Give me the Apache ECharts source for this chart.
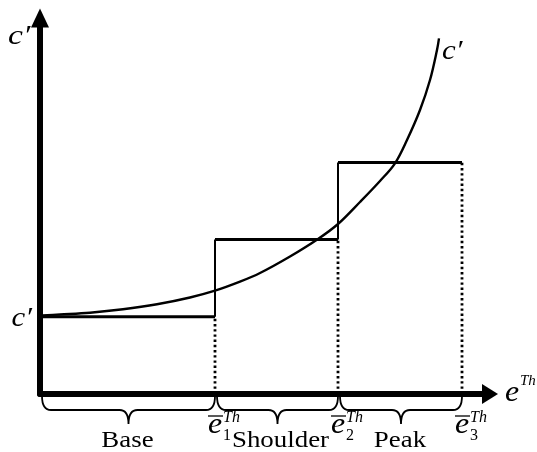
<!DOCTYPE html>
<html><head><meta charset="utf-8">
<script src="https://cdn.jsdelivr.net/npm/echarts@6/dist/echarts.min.js"></script>
<style>html,body{margin:0;padding:0;background:#fff}#c{width:537px;height:452px}</style>
</head><body><div id="c"></div>
<script>
// thresholds ē1^Th, ē2^Th, ē3^Th on the e^Th axis
const thresholds = [3.5, 5.96, 8.44];
const thresholdSubs = ['1', '2', '3'];
// step levels of c' (Base, Shoulder, Peak)
const stepLevels = [1, 2, 3];
const segmentNames = ['Base', 'Shoulder', 'Peak'];
// continuous c' curve
const curveX = [0.04, 0.4, 1.0, 1.66, 2.34, 3.0, 3.5, 4.0, 4.4, 5.0, 5.56, 5.96, 6.4, 6.8, 7.1, 7.34, 7.6, 7.8, 7.94, 7.98];
const curveY = [1.017, 1.03, 1.053, 1.097, 1.162, 1.25, 1.338, 1.455, 1.567, 1.781, 2.008, 2.202, 2.487, 2.759, 2.988, 3.29, 3.679, 4.067, 4.456, 4.607];

const SERIF = '"Liberation Serif","Times New Roman",serif';
const chart = echarts.init(document.getElementById('c'));

function seg(data, width, type) {
  return {type: 'line', data: data, symbol: 'none', silent: true, animation: false,
    lineStyle: {color: '#000', width: width, type: type}};
}
const series = [];
const starts = [0].concat(thresholds.slice(0, -1));
stepLevels.forEach((lv, i) => series.push(seg([[starts[i], lv], [thresholds[i], lv]], 3, 'solid')));
for (let i = 0; i < thresholds.length - 1; i++) {
  series.push(seg([[thresholds[i], stepLevels[i]], [thresholds[i], stepLevels[i + 1]]], 2, 'solid'));
}
thresholds.forEach((x, i) => series.push(seg([[x, 0], [x, stepLevels[i]]], 2.8, [2.4, 2.8])));
series.push({type: 'line', data: curveX.map((x, i) => [x, curveY[i]]), smooth: 0.35,
  symbol: 'none', silent: true, animation: false, lineStyle: {color: '#000', width: 2.4}});
series.push({
  type: 'custom', silent: true, animation: false, clip: false,
  data: starts.map((s, i) => [s, thresholds[i], 0]),
  encode: {x: [0, 1], y: 2},
  renderItem: function (params, api) {
    const a = api.coord([api.value(0), 0]);
    const b = api.coord([api.value(1), 0]);
    const x0 = a[0] + 2, x1 = b[0];
    const y0 = a[1] + 2, y1 = a[1] + 16, y2 = a[1] + 30;
    const xm = (x0 + x1) / 2, r = 9;
    const d = 'M' + x0 + ' ' + y0 + ' Q' + x0 + ' ' + y1 + ' ' + (x0 + r) + ' ' + y1 +
      ' L' + (xm - r) + ' ' + y1 + ' Q' + xm + ' ' + y1 + ' ' + xm + ' ' + y2 +
      ' Q' + xm + ' ' + y1 + ' ' + (xm + r) + ' ' + y1 +
      ' L' + (x1 - r) + ' ' + y1 + ' Q' + x1 + ' ' + y1 + ' ' + x1 + ' ' + y0;
    return {type: 'path', shape: {pathData: d}, style: {fill: 'none', stroke: '#000', lineWidth: 1.8}};
  }
});

chart.setOption({
  animation: false,
  grid: {left: 40, right: 47, top: 18, bottom: 58},
  xAxis: {type: 'value', min: 0, max: 9,
    axisLine: {show: true, onZero: true, symbol: ['none', 'triangle'], symbolSize: [20, 16],
      lineStyle: {color: '#000', width: 6}},
    axisTick: {show: false}, axisLabel: {show: false}, splitLine: {show: false}},
  yAxis: {type: 'value', min: 0, max: 4.87,
    axisLine: {show: true, onZero: true, symbol: ['none', 'triangle'], symbolSize: [18, 19],
      lineStyle: {color: '#000', width: 6}},
    axisTick: {show: false}, axisLabel: {show: false}, splitLine: {show: false}},
  series: series
});

function px(x, y) { return chart.convertToPixel({xAxisIndex: 0, yAxisIndex: 0}, [x, y]); }
function txt(x, y, text, size, italic, align, sx) {
  return {type: 'text', x: x, y: y, scaleX: sx || 1.12, silent: true,
    style: {text: text, font: (italic ? 'italic ' : '') + size + 'px ' + SERIF, fill: '#000',
      align: align || 'center', verticalAlign: 'middle'}};
}
const g = [];
const origin = px(0, 0);
const lvl1 = px(0, stepLevels[0]);
const yTop = px(0, 4.87);
const xEnd = px(9, 0);
const cEnd = px(curveX[curveX.length - 1], curveY[curveY.length - 1]);
g.push(txt(8, yTop[1] + 19, 'c\u2032', 28, true, 'left', 1.2));
g.push(txt(origin[0] - 8, lvl1[1] + 2, 'c\u2032', 28, true, 'right', 1.1));
g.push(txt(cEnd[0] + 3, cEnd[1] + 13, 'c\u2032', 28, true, 'left', 1.1));
g.push(txt(xEnd[0] + 15, origin[1] - 1, 'e', 29, true, 'left', 1.1));
g.push(txt(xEnd[0] + 30, origin[1] - 13, 'Th', 15, true, 'left', 1.0));
segmentNames.forEach((n, i) => {
  const a = px(starts[i], 0), b = px(thresholds[i], 0);
  g.push(txt((a[0] + b[0]) / 2 + (i === 1 ? 4 : 0), origin[1] + 47, n, 24, false, 'center', 1.12));
});
thresholds.forEach((t, i) => {
  const p = px(t, 0);
  g.push(txt(p[0], origin[1] + 31, 'e', 29, true, 'center', 1.1));
  g.push({type: 'line', silent: true, shape: {x1: p[0] - 7, y1: origin[1] + 22, x2: p[0] + 8, y2: origin[1] + 22},
    style: {stroke: '#000', lineWidth: 1.3}});
  g.push(txt(p[0] + 8, origin[1] + 42, thresholdSubs[i], 16, false, 'left', 1.0));
  g.push(txt(p[0] + 8, origin[1] + 24, 'Th', 16, true, 'left', 1.0));
});
chart.setOption({graphic: g});
</script>
</body></html>
